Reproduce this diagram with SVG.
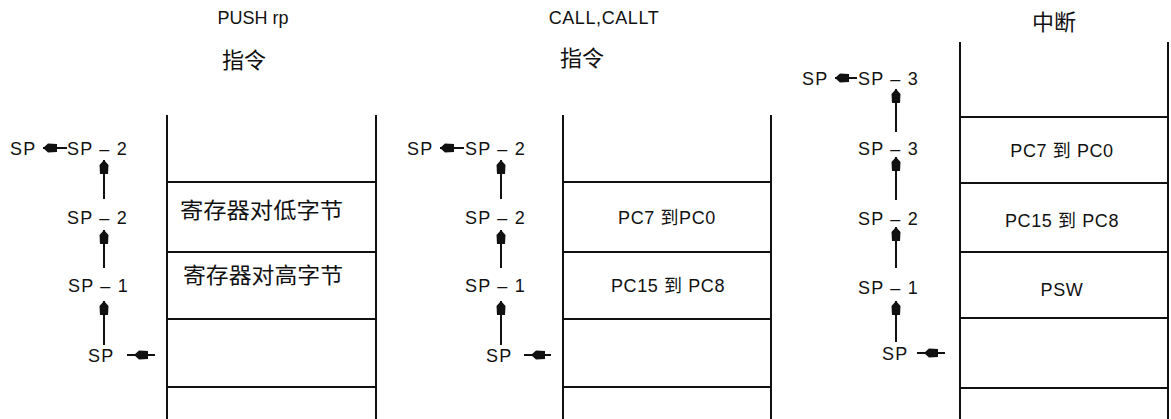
<svg xmlns="http://www.w3.org/2000/svg" width="1171" height="419" viewBox="0 0 1171 419">
<style>
.bg{fill:#fff}
.wall{stroke:#111;stroke-width:2;fill:none}
.lbl{font-family:"Liberation Sans","Noto Sans CJK SC",sans-serif;font-size:18px;fill:#111;letter-spacing:1.2px}
.cell{font-family:"Liberation Sans","Noto Sans CJK SC",sans-serif;font-size:18px;fill:#111;text-anchor:middle;letter-spacing:0.6px}
.cjk{font-family:"Liberation Serif","Noto Sans CJK SC",serif;font-size:22px;fill:#111}
.ttl{font-family:"Liberation Sans","Noto Sans CJK SC",sans-serif;font-size:18px;fill:#111;text-anchor:middle}
.arr{stroke:#111;stroke-width:2;fill:none;marker-end:url(#head)}
.tail{stroke:#111;stroke-width:2;fill:none}
</style>
<defs>
<marker id="head" markerUnits="userSpaceOnUse" markerWidth="16" markerHeight="10" viewBox="0 0 16 10" refX="15" refY="5" orient="auto">
<path d="M15,5 L10,0.5 L1,1 L1,9 L10,9.5 Z" fill="#111"/>
</marker>
</defs>
<rect class="bg" width="1171" height="419"/>

<g id="titles">
<text class="ttl" x="253" y="24">PUSH rp</text>
<text class="cjk" x="244" y="68" text-anchor="middle">指令</text>
<text class="ttl" x="604" y="24" letter-spacing="0.6">CALL,CALLT</text>
<text class="cjk" x="582" y="66" text-anchor="middle">指令</text>
<text class="cjk" x="1054" y="30" text-anchor="middle">中断</text>
</g>

<g id="stack1">
<path class="wall" d="M167,115 V419 M376,115 V419 M167,182 H376 M167,252 H376 M167,319 H376 M167,387 H376"/>
<text class="cjk" x="180" y="218" font-size="23" textLength="163" lengthAdjust="spacingAndGlyphs">寄存器对低字节</text>
<text class="cjk" x="183" y="283" font-size="23" textLength="160" lengthAdjust="spacingAndGlyphs">寄存器对高字节</text>
</g>

<g id="labels1">
<text class="lbl" x="10" y="155">SP</text>
<text class="lbl" x="67" y="155">SP – 2</text>
<text class="lbl" x="67" y="224">SP – 2</text>
<text class="lbl" x="68" y="292">SP – 1</text>
<text class="lbl" x="88" y="362">SP</text>
</g>

<g id="stack2">
<path class="wall" d="M563,115 V419 M771,115 V419 M563,182 H771 M563,252 H771 M563,319 H771 M563,387 H771"/>
<text class="cell" x="667" y="224">PC7 到PC0</text>
<text class="cell" x="668" y="292">PC15 到 PC8</text>
</g>

<g id="labels2">
<text class="lbl" x="407" y="155">SP</text>
<text class="lbl" x="465" y="155">SP – 2</text>
<text class="lbl" x="465" y="224">SP – 2</text>
<text class="lbl" x="465" y="292">SP – 1</text>
<text class="lbl" x="486" y="362">SP</text>
</g>

<g id="stack3">
<path class="wall" d="M960,42 V419 M1168,42 V419 M960,117 H1168 M960,183 H1168 M960,252 H1168 M960,318 H1168 M960,388 H1168"/>
<text class="cell" x="1062" y="157">PC7 到 PC0</text>
<text class="cell" x="1062" y="227">PC15 到 PC8</text>
<text class="cell" x="1062" y="296">PSW</text>
</g>

<g id="labels3">
<text class="lbl" x="802" y="85">SP</text>
<text class="lbl" x="858" y="85" letter-spacing="2.2">SP – 3</text>
<text class="lbl" x="858" y="155" letter-spacing="2.2">SP – 3</text>
<text class="lbl" x="858" y="225" letter-spacing="2.2">SP – 2</text>
<text class="lbl" x="858" y="294" letter-spacing="2.2">SP – 1</text>
<text class="lbl" x="882" y="360">SP</text>
</g>

<g id="connectors">
<path class="arr" d="M104,199 V160"/>
<path class="arr" d="M104,268 V230"/>
<path class="arr" d="M104,345 V301"/>
<path class="arr" d="M67,148 H43"/>
<path class="arr" d="M155,355 H134"/><path class="tail" d="M134,355 H127"/>

<path class="arr" d="M501,199 V160"/>
<path class="arr" d="M501,268 V230"/>
<path class="arr" d="M501,345 V301"/>
<path class="arr" d="M464,148 H440"/>
<path class="arr" d="M551,355 H531"/><path class="tail" d="M531,355 H524"/>

<path class="arr" d="M896,132 V89"/>
<path class="arr" d="M896,200 V157"/>
<path class="arr" d="M896,268 V227"/>
<path class="arr" d="M896,342 V301"/>
<path class="arr" d="M857,78 H835"/>
<path class="arr" d="M945,353 H924"/><path class="tail" d="M924,353 H917"/>
</g>
</svg>
